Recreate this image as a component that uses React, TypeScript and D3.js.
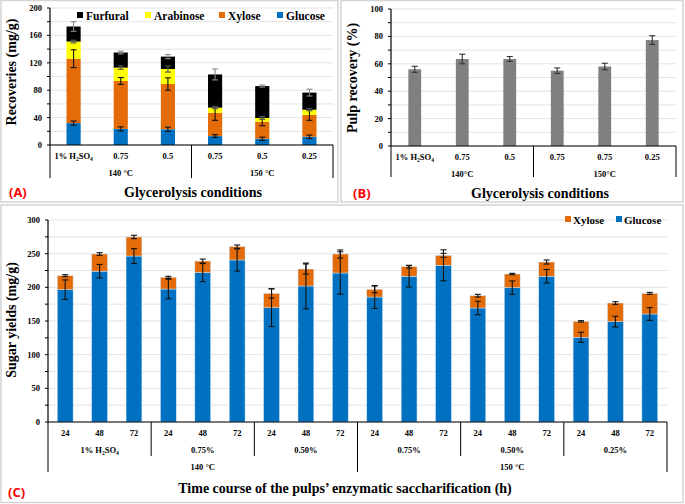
import React from "react";
import * as d3 from "d3";

// ---------- Panel A data ----------
const A_categories = ["1% H2SO4", "0.75", "0.5", "0.75", "0.5", "0.25"];
const A_groups = ["140 °C", "150 °C"];
const A_glucose = [32, 23.5, 23, 13, 9, 12];
const A_glucoseErr = [3, 3, 3, 2, 2.5, 2.5];
const A_xylose = [94, 70, 66, 34, 25, 32];
const A_xyloseErr = [13, 5, 9, 11, 6, 8];
const A_arabinose = [25, 19.5, 22, 7.5, 5.5, 7.5];
const A_arabinoseErr = [2, 2.5, 4.5, 1.5, 2, 1.5];
const A_furfural = [22, 22, 18, 48.5, 46.5, 25];
const A_furfuralErr = [7, 2, 3, 8, 1.5, 5];
const A_ticks = [0, 40, 80, 120, 160, 200];

// ---------- Panel B data ----------
const B_categories = ["1% H2SO4", "0.75", "0.5", "0.75", "0.75", "0.25"];
const B_groups = ["140°C", "150°C"];
const B_values = [56, 63.5, 63.5, 55, 58, 77.3];
const B_errors = [2.2, 3.5, 1.8, 2, 2.4, 3.2];
const B_ticks = [0, 20, 40, 60, 80, 100];

// ---------- Panel C data ----------
const C_times = ["24", "48", "72", "24", "48", "72", "24", "48", "72", "24", "48", "72", "24", "48", "72", "24", "48", "72"];
const C_groups = ["1% H2SO4", "0.75%", "0.50%", "0.75%", "0.50%", "0.25%"];
const C_temps = ["140 °C", "150 °C"];
const C_glucose = [196.5, 224, 246.5, 197.5, 221.8, 240.6, 169.8, 202, 221.3, 185.6, 216.4, 232.7, 169.3, 199.5, 216.4, 125.8, 149, 160.4];
const C_glucoseErr = [14.5, 10, 11, 14.5, 13.5, 16.5, 28, 34, 31.5, 17, 16, 23, 10, 10, 10, 7.5, 8, 9.5];
const C_xylose = [20.8, 25.5, 28.3, 17.4, 17.2, 19.8, 21.2, 25.2, 28.2, 11.4, 14.3, 14.8, 18.3, 20.3, 21.2, 23.7, 27.7, 30.6];
const C_xyloseErr = [1.5, 2, 2.5, 1.5, 3, 2.5, 7, 7.5, 6, 5, 2, 3, 2, 1, 3, 1, 2, 1.5];
const C_ticks = [0, 50, 100, 150, 200, 250, 300];

const COL_GLU = "#0070C0";
const COL_XYL = "#E36C09";
const COL_ARA = "#FFFF00";
const COL_FUR = "#000000";
const COL_GREY = "#808080";
const SERIF = "'Liberation Serif', 'Times New Roman', serif";
const GRID = "#e3e3e3";

function Label({ text, x, y, size }: { text: string; x: number; y: number; size: number }) {
  if (text.includes("H2SO4")) {
    const pre = text.replace("H2SO4", "");
    const s = size * 0.65;
    return (
      <text x={x} y={y} textAnchor="middle" fontFamily={SERIF} fontWeight="bold" fontSize={size}>
        {pre}H<tspan fontSize={s} dy={1.5}>2</tspan>
        <tspan dy={-1.5}>SO</tspan>
        <tspan fontSize={s} dy={1.5}>4</tspan>
      </text>
    );
  }
  return (
    <text x={x} y={y} textAnchor="middle" fontFamily={SERIF} fontWeight="bold" fontSize={size}>
      {text}
    </text>
  );
}

function ErrBar({ x, y0, y1, color, cap = 3 }: { x: number; y0: number; y1: number; color: string; cap?: number }) {
  return (
    <g stroke={color} strokeWidth={1.1}>
      <line x1={x} x2={x} y1={y0} y2={y1} />
      <line x1={x - cap} x2={x + cap} y1={y0} y2={y0} />
      <line x1={x - cap} x2={x + cap} y1={y1} y2={y1} />
    </g>
  );
}

function YAxis({ x, y, ticks, minorStep, max, x1, labelSize }: any) {
  const grid = d3.range(0, max + 0.001, minorStep);
  return (
    <g>
      {grid.map((v: number) => (
        <line key={"g" + v} x1={x} x2={x1} y1={y(v)} y2={y(v)} stroke={GRID} strokeWidth={1} />
      ))}
      {grid.map((v: number) => (
        <line key={"t" + v} x1={x - 3} x2={x} y1={y(v)} y2={y(v)} stroke="#000" strokeWidth={1} />
      ))}
      <line x1={x} x2={x} y1={y(max)} y2={y(0)} stroke="#000" strokeWidth={1.2} />
      {ticks.map((v: number) => (
        <text key={"l" + v} x={x - 8} y={y(v) + 3} textAnchor="end" fontFamily={SERIF} fontWeight="bold" fontSize={labelSize}>
          {v}
        </text>
      ))}
    </g>
  );
}

export default function App() {
  // ---------- Panel A ----------
  const aY = d3.scaleLinear().domain([0, 200]).range([145, 8]);
  const aX = d3.scaleBand().domain(d3.range(6).map(String)).range([50, 333]).paddingInner(0.7).paddingOuter(0.35);
  const aSeries = [
    { vals: A_glucose, errs: A_glucoseErr, color: COL_GLU, ec: "#111" },
    { vals: A_xylose, errs: A_xyloseErr, color: COL_XYL, ec: "#111" },
    { vals: A_arabinose, errs: A_arabinoseErr, color: COL_ARA, ec: "#555" },
    { vals: A_furfural, errs: A_furfuralErr, color: COL_FUR, ec: "#888" },
  ];
  const aStack = d3.stack<number>().keys(["0", "1", "2", "3"]).value((i: number, k: string) => aSeries[+k].vals[i])(d3.range(6));

  // ---------- Panel B ----------
  const bY = d3.scaleLinear().domain([0, 100]).range([146, 9]);
  const bX = d3.scaleBand().domain(d3.range(6).map(String)).range([391, 676]).paddingInner(0.73).paddingOuter(0.365);

  // ---------- Panel C ----------
  const cY = d3.scaleLinear().domain([0, 300]).range([422, 220]);
  const cX = d3.scaleBand().domain(d3.range(18).map(String)).range([48, 667]).paddingInner(0.54).paddingOuter(0.27);
  const cSeries = [
    { vals: C_glucose, errs: C_glucoseErr, color: COL_GLU },
    { vals: C_xylose, errs: C_xyloseErr, color: COL_XYL },
  ];
  const cStack = d3.stack<number>().keys(["0", "1"]).value((i: number, k: string) => cSeries[+k].vals[i])(d3.range(18));

  const aBand = (333 - 50) / 6;
  const bBand = (676 - 391) / 6;
  const cBand = (667 - 48) / 18;

  return (
    <svg width={685} height={504} style={{ position: "absolute", left: 0, top: 0, background: "#fff" }}>
      {/* frames */}
      <rect x={1} y={0.5} width={337} height={201.5} fill="none" stroke="#d4d4d4" strokeWidth={1.5} />
      <rect x={341} y={0.5} width={342} height={201.5} fill="none" stroke="#d4d4d4" strokeWidth={1.5} />
      <rect x={1} y={205} width={682} height={297.5} fill="none" stroke="#d4d4d4" strokeWidth={1.5} />

      {/* ===== Panel A ===== */}
      <YAxis x={50} y={aY} ticks={A_ticks} minorStep={20} max={200} x1={333} labelSize={8.5} />
      {aStack.map((layer: any, si: number) =>
        layer.map((d: any, i: number) => (
          <rect key={`a${si}-${i}`} x={aX(String(i))} width={aX.bandwidth()} y={aY(d[1])} height={aY(d[0]) - aY(d[1])} fill={aSeries[si].color} />
        ))
      )}
      {aStack.map((layer: any, si: number) =>
        layer.map((d: any, i: number) => {
          const cx = (aX(String(i)) as number) + aX.bandwidth() / 2;
          const e = aSeries[si].errs[i];
          return <ErrBar key={`ae${si}-${i}`} x={cx} y0={aY(d[1] + e)} y1={aY(d[1] - e)} color={aSeries[si].ec} cap={3} />;
        })
      )}
      <line x1={50} x2={333} y1={145} y2={145} stroke="#000" strokeWidth={1.2} />
      {[0, 3, 6].map((k) => (
        <line key={"as" + k} x1={50 + k * aBand} x2={50 + k * aBand} y1={145} y2={178} stroke="#000" strokeWidth={1} />
      ))}
      {A_categories.map((c, i) => (
        <Label key={"ac" + i} text={c} x={(aX(String(i)) as number) + aX.bandwidth() / 2} y={159} size={8.5} />
      ))}
      {A_groups.map((g, i) => (
        <Label key={"ag" + i} text={g} x={50 + (i * 3 + 1.5) * aBand} y={176} size={8.5} />
      ))}
      {/* legend A */}
      {[
        { t: "Furfural", c: COL_FUR, x: 77 },
        { t: "Arabinose", c: COL_ARA, x: 145 },
        { t: "Xylose", c: COL_XYL, x: 219 },
        { t: "Glucose", c: COL_GLU, x: 277 },
      ].map((l) => (
        <g key={l.t}>
          <rect x={l.x} y={12} width={6} height={6} fill={l.c} />
          <text x={l.x + 9} y={19.5} fontFamily={SERIF} fontWeight="bold" fontSize={11.5}>
            {l.t}
          </text>
        </g>
      ))}
      <text transform="translate(16,72) rotate(-90)" textAnchor="middle" fontFamily={SERIF} fontWeight="bold" fontSize={14}>
        Recoveries (mg/g)
      </text>
      <text x={193} y={197} textAnchor="middle" fontFamily={SERIF} fontWeight="bold" fontSize={14}>
        Glycerolysis conditions
      </text>
      <text x={9} y={197} fontFamily="'Open Sans', 'DejaVu Sans', sans-serif" fontWeight="bold" fontSize={13} fill="#ff0000">
        (A)
      </text>

      {/* ===== Panel B ===== */}
      <YAxis x={391} y={bY} ticks={B_ticks} minorStep={10} max={100} x1={676} labelSize={8.5} />
      {B_values.map((v, i) => (
        <rect key={"b" + i} x={bX(String(i))} width={bX.bandwidth()} y={bY(v)} height={bY(0) - bY(v)} fill={COL_GREY} />
      ))}
      {B_values.map((v, i) => (
        <ErrBar key={"be" + i} x={(bX(String(i)) as number) + bX.bandwidth() / 2} y0={bY(v + B_errors[i])} y1={bY(v - B_errors[i])} color="#333" cap={3} />
      ))}
      <line x1={391} x2={676} y1={146} y2={146} stroke="#000" strokeWidth={1.2} />
      {[0, 3, 6].map((k) => (
        <line key={"bs" + k} x1={391 + k * bBand} x2={391 + k * bBand} y1={146} y2={177} stroke="#000" strokeWidth={1} />
      ))}
      {B_categories.map((c, i) => (
        <Label key={"bc" + i} text={c} x={(bX(String(i)) as number) + bX.bandwidth() / 2} y={160} size={8.5} />
      ))}
      {B_groups.map((g, i) => (
        <Label key={"bg" + i} text={g} x={391 + (i * 3 + 1.5) * bBand} y={177} size={8.5} />
      ))}
      <text transform="translate(357,78) rotate(-90)" textAnchor="middle" fontFamily={SERIF} fontWeight="bold" fontSize={14}>
        Pulp recovery (%)
      </text>
      <text x={540} y={198} textAnchor="middle" fontFamily={SERIF} fontWeight="bold" fontSize={14}>
        Glycerolysis conditions
      </text>
      <text x={353} y={198} fontFamily="'Open Sans', 'DejaVu Sans', sans-serif" fontWeight="bold" fontSize={13} fill="#ff0000">
        (B)
      </text>

      {/* ===== Panel C ===== */}
      <YAxis x={48} y={cY} ticks={C_ticks} minorStep={25} max={300} x1={667} labelSize={8.5} />
      {cStack.map((layer: any, si: number) =>
        layer.map((d: any, i: number) => (
          <rect key={`c${si}-${i}`} x={cX(String(i))} width={cX.bandwidth()} y={cY(d[1])} height={cY(d[0]) - cY(d[1])} fill={cSeries[si].color} stroke="#cfe3f5" strokeWidth={0.5} />
        ))
      )}
      {cStack.map((layer: any, si: number) =>
        layer.map((d: any, i: number) => {
          const cx = (cX(String(i)) as number) + cX.bandwidth() / 2;
          const e = cSeries[si].errs[i];
          return <ErrBar key={`ce${si}-${i}`} x={cx} y0={cY(d[1] + e)} y1={cY(d[1] - e)} color="#111" cap={3} />;
        })
      )}
      <line x1={48} x2={667} y1={422} y2={422} stroke="#000" strokeWidth={1.2} />
      {[0, 3, 6, 9, 12, 15, 18].map((k) => (
        <line key={"cs" + k} x1={48 + k * cBand} x2={48 + k * cBand} y1={422} y2={k % 9 === 0 ? 472 : 456} stroke="#000" strokeWidth={1} />
      ))}
      {C_times.map((t, i) => (
        <Label key={"ct" + i} text={t} x={(cX(String(i)) as number) + cX.bandwidth() / 2} y={436} size={8.5} />
      ))}
      {C_groups.map((g, i) => (
        <Label key={"cg" + i} text={g} x={48 + (i * 3 + 1.5) * cBand} y={453} size={8.5} />
      ))}
      {C_temps.map((g, i) => (
        <Label key={"cT" + i} text={g} x={48 + (i * 9 + 4.5) * cBand} y={470} size={8.5} />
      ))}
      {/* legend C */}
      {[
        { t: "Xylose", c: COL_XYL, x: 565 },
        { t: "Glucose", c: COL_GLU, x: 616 },
      ].map((l) => (
        <g key={l.t}>
          <rect x={l.x} y={216} width={6} height={6} fill={l.c} />
          <text x={l.x + 8} y={223.5} fontFamily={SERIF} fontWeight="bold" fontSize={11}>
            {l.t}
          </text>
        </g>
      ))}
      <text transform="translate(16,320) rotate(-90)" textAnchor="middle" fontFamily={SERIF} fontWeight="bold" fontSize={14}>
        Sugar yields (mg/g)
      </text>
      <text x={345} y={493} textAnchor="middle" fontFamily={SERIF} fontWeight="bold" fontSize={14}>
        Time course of the pulps’ enzymatic saccharification (h)
      </text>
      <text x={8} y={497} fontFamily="'Open Sans', 'DejaVu Sans', sans-serif" fontWeight="bold" fontSize={13} fill="#ff0000">
        (C)
      </text>
    </svg>
  );
}
